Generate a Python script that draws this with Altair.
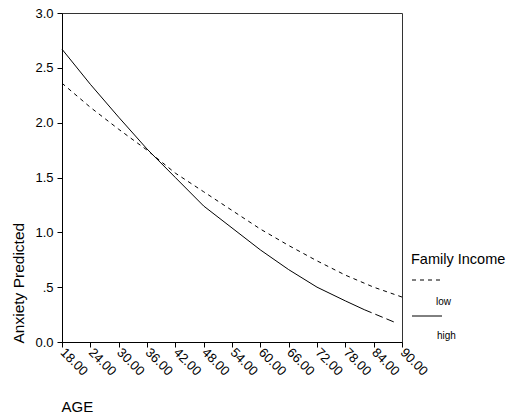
import altair as alt
import pandas as pd

# Predicted anxiety by age, for low and high family income
AGES = [18, 24, 30, 36, 42, 48, 54, 60, 66, 72, 78, 84, 90]
LOW = [2.36, 2.14, 1.94, 1.75, 1.54, 1.37, 1.20, 1.03, 0.88, 0.74, 0.61, 0.50, 0.41]

HIGH_AGES = [18, 24, 30, 36, 42, 48, 54, 60, 66, 72, 78, 82]
HIGH = [2.67, 2.35, 2.05, 1.76, 1.50, 1.24, 1.04, 0.84, 0.66, 0.50, 0.375, 0.295]

# extrapolated tail of the high-income curve (drawn with long dashes)
HIGH_TAIL_AGES = [82, 89]
HIGH_TAIL = [0.295, 0.17]

Y_TICKS = [0.0, 0.5, 1.0, 1.5, 2.0, 2.5, 3.0]
LEGEND_TITLE = "Family Income"
LEGEND_LABELS = ["low", "high"]

FONT = "Liberation Sans"

low_df = pd.DataFrame({"age": AGES, "anxiety": LOW})
high_df = pd.DataFrame({"age": HIGH_AGES, "anxiety": HIGH})
tail_df = pd.DataFrame({"age": HIGH_TAIL_AGES, "anxiety": HIGH_TAIL})

x_scale = alt.Scale(domain=[18, 90], nice=False, zero=False)
y_scale = alt.Scale(domain=[0, 3], nice=False)

x_axis = alt.Axis(
    title="AGE",
    values=AGES,
    tickCount=len(AGES),
    format=".2f",
    labelAngle=45,
    labelAlign="left",
    labelBaseline="middle",
    labelPadding=3,
    labelOverlap=False,
    labelBound=False,
    labelFlush=False,
    labelFontSize=13,
    labelFont=FONT,
    labelColor="#000",
    tickSize=5,
    tickColor="#000",
    domainColor="#000",
    grid=False,
    titleFont=FONT,
    titleFontSize=15,
    titleFontWeight="normal",
    titleColor="#000",
    titleX=-1,
    titleY=69,
    titleAlign="left",
    titleBaseline="alphabetic",
)

y_axis = alt.Axis(
    title="Anxiety Predicted",
    values=Y_TICKS,
    labelExpr="datum.value == 0.5 ? '.5' : format(datum.value, '.1f')",
    labelPadding=4,
    labelOverlap=False,
    labelFontSize=13,
    labelFont=FONT,
    labelColor="#000",
    tickSize=5,
    tickColor="#000",
    domainColor="#000",
    grid=False,
    titleFont=FONT,
    titleFontSize=15.5,
    titleFontWeight="normal",
    titleColor="#000",
    titleAngle=270,
    titleX=-44,
    titleY=330,
    titleAlign="left",
    titleBaseline="middle",
)

X = alt.X("age:Q", scale=x_scale, axis=x_axis)
Y = alt.Y("anxiety:Q", scale=y_scale, axis=y_axis)

low_line = alt.Chart(low_df).mark_line(
    color="#000", strokeWidth=1, strokeDash=[4, 4]
).encode(x=X, y=Y)

high_line = alt.Chart(high_df).mark_line(color="#000", strokeWidth=1).encode(
    x=X, y=Y
)

high_tail = alt.Chart(tail_df).mark_line(
    color="#000", strokeWidth=1, strokeDash=[8, 4]
).encode(x=X, y=Y)

# hand-drawn legend to the right of the plot
legend_base = alt.Chart(pd.DataFrame({"k": [0]}))
legend_title = legend_base.mark_text(
    font=FONT, fontSize=14.5, fill="#000", align="left", baseline="middle"
).encode(x=alt.value(349), y=alt.value(247), text=alt.value(LEGEND_TITLE))
legend_low_line = legend_base.mark_rule(
    color="#000", strokeWidth=1, strokeDash=[4, 4]
).encode(x=alt.value(350), x2=alt.value(380), y=alt.value(267))
legend_low_text = legend_base.mark_text(
    font=FONT, fontSize=10, fill="#000", align="left", baseline="middle"
).encode(x=alt.value(374), y=alt.value(289), text=alt.value(LEGEND_LABELS[0]))
legend_high_line = legend_base.mark_rule(color="#000", strokeWidth=1).encode(
    x=alt.value(350), x2=alt.value(380), y=alt.value(303)
)
legend_high_text = legend_base.mark_text(
    font=FONT, fontSize=10, fill="#000", align="left", baseline="middle"
).encode(x=alt.value(375), y=alt.value(323), text=alt.value(LEGEND_LABELS[1]))

chart = alt.layer(
    low_line, high_line, high_tail,
    legend_title, legend_low_line, legend_low_text,
    legend_high_line, legend_high_text,
).properties(
    width=340,
    height=329,
    autosize=alt.AutoSizeParams(type="none"),
    padding={"left": 62, "top": 13, "right": 110, "bottom": 78},
    background="#ffffff",
).configure_view(
    stroke="#333", strokeWidth=1
)

chart.save("out.html", embed_options={"renderer": "svg", "actions": False})
